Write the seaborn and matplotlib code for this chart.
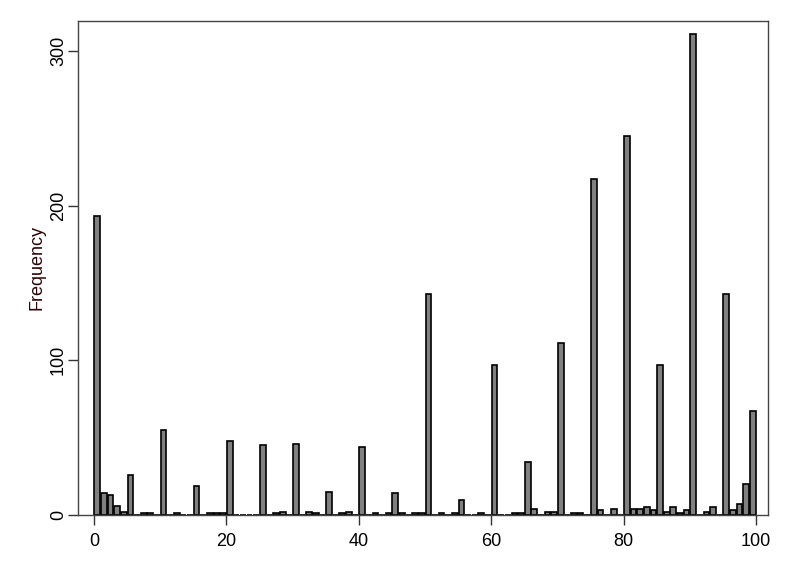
import pandas as pd
import matplotlib
matplotlib.use("Agg")
import matplotlib.pyplot as plt
import seaborn as sns

# -------------------------------
# Data (value -> frequency)
# -------------------------------
values = [0, 1, 2, 3, 4, 5, 7, 8, 10, 12, 15, 17, 18, 19, 20,
          25, 27, 28, 30, 32, 33, 35, 37, 38, 40, 42, 44, 45, 46, 48, 49,
          50, 52, 54, 55, 58, 60, 63, 64, 65, 66, 68, 69, 70, 72, 73,
          75, 76, 78, 80, 81, 82, 83, 84, 85, 86, 87, 88, 89,
          90, 92, 93, 95, 96, 97, 98, 99]
freqs = [193, 14, 13, 6, 2, 26, 1, 1, 55, 1, 19, 1, 1, 1, 48,
         45, 1, 2, 46, 2, 1, 15, 1, 2, 44, 1, 1, 14, 1, 1, 1,
         143, 1, 1, 10, 1, 97, 1, 1, 34, 4, 2, 2, 111, 1, 1,
         217, 3, 4, 245, 4, 4, 5, 3, 97, 2, 5, 1, 3,
         311, 2, 5, 143, 3, 7, 20, 67]

x_ticks = [0, 20, 40, 60, 80, 100]
y_ticks = [0, 100, 200, 300]

df = pd.DataFrame({'value': values, 'freq': freqs})

# -------------------------------
# Style
# -------------------------------
sns.set_style("ticks")
plt.rcParams['font.family'] = ['Liberation Sans', 'DejaVu Sans']

fig = plt.figure(figsize=(7.9, 5.74), dpi=100)
ax = fig.add_axes([78 / 790, 59 / 574, 690 / 790, 494 / 574])

sns.histplot(data=df, x='value', weights='freq', binwidth=1, binrange=(0, 100),
             shrink=0.86, color='#808080', edgecolor='black', linewidth=1.2,
             alpha=1, ax=ax)

ax.set_xlim(-2.42, 101.8)
ax.set_ylim(0, 319.3)
ax.set_xticks(x_ticks)
ax.set_yticks(y_ticks)
ax.set_yticklabels([str(t) for t in y_ticks], rotation=90, va='center')
ax.tick_params(axis='both', labelsize=13, length=7, width=1, color='#333333',
               labelcolor='black', direction='out')
ax.tick_params(axis='x', pad=6)
ax.tick_params(axis='y', pad=1)
ax.set_xlabel("")
ax.set_ylabel("Frequency", fontsize=13, color='#2a0505', labelpad=3)

for s in ax.spines.values():
    s.set_visible(True)
    s.set_color('#444444')
    s.set_linewidth(1)

fig.savefig("out.png", dpi=100)
